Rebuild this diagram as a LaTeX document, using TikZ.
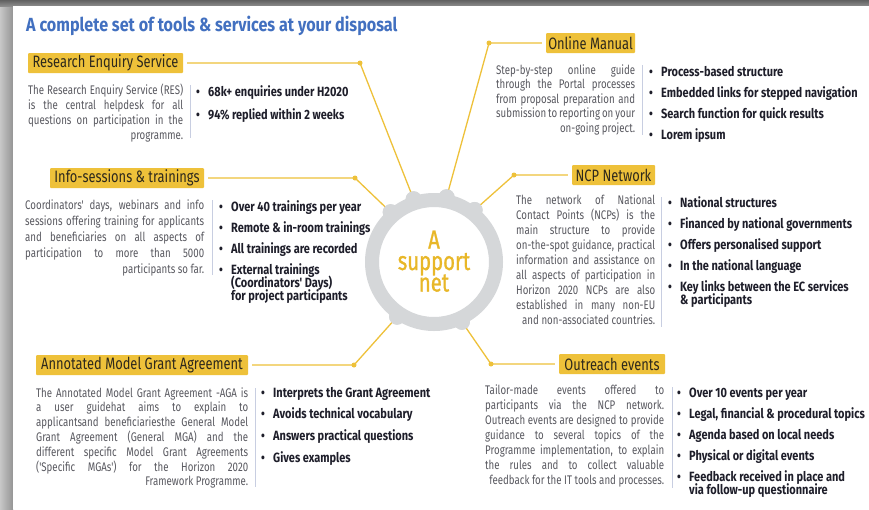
\documentclass[tikz,border=0pt]{standalone}
\usepackage{fontspec}
\setmainfont{Fira Sans}
\newfontfamily\cf{Fira Sans}[FakeStretch=0.82]
\newfontfamily\lf{Fira Sans}[FakeStretch=0.78]
\newfontfamily\hf{Fira Sans}[FakeStretch=0.78,FakeBold=1]
\newfontfamily\tf{Fira Sans}[FakeStretch=0.85]
\newfontfamily\pf{Fira Sans}[FakeStretch=0.775]
\definecolor{eyellow}{RGB}{238,193,58}
\definecolor{ctext}{RGB}{232,183,40}
\definecolor{tblue}{RGB}{66,112,192}
\definecolor{pgray}{RGB}{88,88,95}
\definecolor{btext}{RGB}{30,30,42}
\definecolor{ringg}{RGB}{213,215,217}
\definecolor{divc}{RGB}{200,206,225}
\definecolor{labtxt}{RGB}{45,40,28}
\newcommand\jl[2]{\makebox[#1][s]{#2}}
\newcommand\jr[2]{\makebox[#1][r]{#2}}
\newcommand\bi{\makebox[12pt][l]{\textbullet}}
\newcommand\bc{\hspace*{12pt}}
\tikzset{
  labbox/.style={fill=eyellow, rounded corners=1pt, inner sep=0pt, minimum height=20pt,
    text=labtxt, font=\lf\fontsize{16.5}{17}\selectfont},
  para/.style={inner sep=0pt, anchor=base west, align=left, text=pgray,
    font={\pf\fontsize{12.5}{#1}\selectfont\lineskiplimit=-20pt\lineskip=0pt}},
  blist/.style={inner sep=0pt, anchor=base west, align=left, text=btext,
    font={\cf\bfseries\fontsize{13.4}{13}\selectfont\lineskiplimit=-20pt\lineskip=0pt}},
  hubtext/.style={anchor=base, inner sep=0pt, text=ctext, text height=14pt, text depth=3pt,
    font=\hf\fontsize{26}{26}\selectfont},
  conn/.style={eyellow, line width=1.3pt, shorten <=4pt},
  dotc/.style={circle, fill=eyellow, inner sep=0pt, minimum size=5pt},
  knob/.style={circle, fill=ringg, inner sep=0pt, minimum size=16pt},
  divider/.style={divc, line width=0.8pt}
}
\begin{document}
\begin{tikzpicture}[x=1pt,y=-1pt]
\useasboundingbox (0,0) rectangle (869,509);
% frame and shadow
\shade[left color=black!22, right color=black!42] (0,0) rectangle (13,509);
\shade[top color=black!62, bottom color=black!45] (0,0) rectangle (869,6);
\fill[white] (13,6) rectangle (869,509);

% title
\node[anchor=base west, inner sep=0pt, text=tblue, font=\tf\bfseries\fontsize{19}{19}\selectfont] (title) at (26,31) {A complete set of tools \& services at your disposal};

% hub
\coordinate (c) at (434,262);
\node[knob] (k1) at ([shift={(108:66pt)}]c) {};
\node[knob] (k2) at ([shift={(131:66pt)}]c) {};
\node[knob] (k3) at ([shift={(236:66pt)}]c) {};
\node[knob] (k4) at ([shift={(79:66pt)}]c) {};
\node[knob] (k5) at ([shift={(52:66pt)}]c) {};
\node[knob] (k6) at ([shift={(295:66pt)}]c) {};

% labels
\node[labbox, minimum width=155pt] (res) at (105.5,63) {Research Enquiry Service};
\node[labbox, minimum width=154pt] (info) at (127,178) {Info-sessions \& trainings};
\node[labbox, minimum width=212pt] (aga) at (142,365) {Annotated Model Grant Agreement};
\node[labbox, minimum width=89pt] (man) at (590.5,43) {Online Manual};
\node[labbox, minimum width=83pt] (ncp) at (613.5,175) {NCP Network};
\node[labbox, minimum width=106pt] (out) at (612,364) {Outreach events};

% dots
\coordinate (d1) at (360,63);
\coordinate (d2) at (355,178);
\coordinate (d3) at (354,365);
\coordinate (d4) at (489,43);
\coordinate (d5) at (514,175);
\coordinate (d6) at (491,364);

% connectors
\draw[conn] (res.east) -- (d1) -- (k1.center);
\draw[conn] (info.east) -- (d2) -- (k2.center);
\draw[conn] (aga.east) -- (d3) -- (k3.center);
\draw[conn] (man.west) -- (d4) -- (k4.center);
\draw[conn] (ncp.west) -- (d5) -- (k5.center);
\draw[conn] (out.west) -- (d6) -- (k6.center);
\foreach \d in {d1,d2,d3,d4,d5,d6} \node[dotc] at (\d) {};

% ring
\fill[ringg, even odd rule] (c) circle (69pt) (c) circle (55pt);
\foreach \k in {k1,k2,k3,k4,k5,k6} \fill[ringg] (\k) circle (8pt);
\node[hubtext] (hubA) at (434,248.5) {A};
\node[hubtext] (hubB) at (434,270) {support};
\node[hubtext] (hubC) at (434,291.5) {net};

% paragraphs (anchored at the baseline of their last line)
\node[para=15] (p1) at (28,139) {\jl{155pt}{The Research Enquiry Service (RES)}\\\jl{155pt}{is the central helpdesk for all}\\\jl{155pt}{questions on participation in the}\\\jr{155pt}{programme.}};
\node[para=14.5] (p2) at (496,132) {\jl{139pt}{Step-by-step online guide}\\\jl{139pt}{through the Portal processes}\\\jl{139pt}{from proposal preparation and}\\\jl{139pt}{submission to reporting on your}\\\jr{139pt}{on-going project.}};
\node[para=16.2] (p3) at (25,273.8) {\jl{179pt}{Coordinators' days, webinars and info}\\\jl{179pt}{sessions offering training for applicants}\\\jl{179pt}{and beneficiaries on all aspects of}\\\jl{179pt}{participation to more than 5000}\\\jr{179pt}{participants so far.}};
\node[para=15.1] (p4) at (516,324.8) {\jl{139pt}{The network of National}\\\jl{139pt}{Contact Points (NCPs) is the}\\\jl{139pt}{main structure to provide}\\\jl{139pt}{on-the-spot guidance, practical}\\\jl{139pt}{information and assistance on}\\\jl{139pt}{all aspects of participation in}\\\jl{139pt}{Horizon 2020 NCPs are also}\\\jl{139pt}{established in many non-EU}\\\jr{139pt}{and non-associated countries.}};
\node[para=14.8] (p5) at (36,485.8) {\jl{212pt}{The Annotated Model Grant Agreement -AGA is}\\\jl{212pt}{a user guidehat aims to explain to}\\\jl{212pt}{applicantsand beneficiariesthe General Model}\\\jl{212pt}{Grant Agreement (General MGA) and the}\\\jl{212pt}{different specific Model Grant Agreements}\\\jl{212pt}{('Specific MGAs') for the Horizon 2020}\\\jr{212pt}{Framework Programme.}};
\node[para=15] (p6) at (485,484) {\jl{179pt}{Tailor-made events offered to}\\\jl{179pt}{participants via the NCP network.}\\\jl{179pt}{Outreach events are designed to provide}\\\jl{179pt}{guidance to several topics of the}\\\jl{179pt}{Programme implementation, to explain}\\\jl{179pt}{the rules and to collect valuable}\\\jr{179pt}{feedback for the IT tools and processes.}};

% dividers
\draw[divider] (190,85) -- (190,138);
\draw[divider] (642,65) -- (642,135);
\draw[divider] (212,200) -- (212,275);
\draw[divider] (661,197) -- (661,327);
\draw[divider] (255,388) -- (255,487);
\draw[divider] (672,387) -- (672,488);

% bullet lists (anchored at the baseline of their last line)
\node[blist] (b1) at (196,119) {\bi 68k+ enquiries under H2020\\[10pt]\bi 94\% replied within 2 weeks};
\node[blist] (b2) at (649,139.9) {\bi Process-based structure\\[8.3pt]\bi Embedded links for stepped navigation\\[8.3pt]\bi Search function for quick results\\[8.3pt]\bi Lorem ipsum};
\node[blist] (b3) at (219,300.9) {\bi Over 40 trainings per year\\[8.3pt]\bi Remote \& in-room trainings\\[8.3pt]\bi All trainings are recorded\\[8.3pt]\bi External trainings\\\bc (Coordinators' Days)\\\bc for project participants};
\node[blist] (b4) at (668,304.9) {\bi National structures\\[8.3pt]\bi Financed by national governments\\[8.3pt]\bi Offers personalised support\\[8.3pt]\bi In the national language\\[8pt]\bi Key links between the EC services\\\bc \& participants};
\node[blist] (b5) at (261,462.1) {\bi Interprets the Grant Agreement\\[8.7pt]\bi Avoids technical vocabulary\\[8.7pt]\bi Answers practical questions\\[8.7pt]\bi Gives examples};
\node[blist] (b6) at (677,494.8) {\bi Over 10 events per year\\[8.2pt]\bi Legal, financial \& procedural topics\\[8.2pt]\bi Agenda based on local needs\\[8.2pt]\bi Physical or digital events\\[8.2pt]\bi Feedback received in place and\\\bc via follow-up questionnaire};
\end{tikzpicture}
\end{document}
